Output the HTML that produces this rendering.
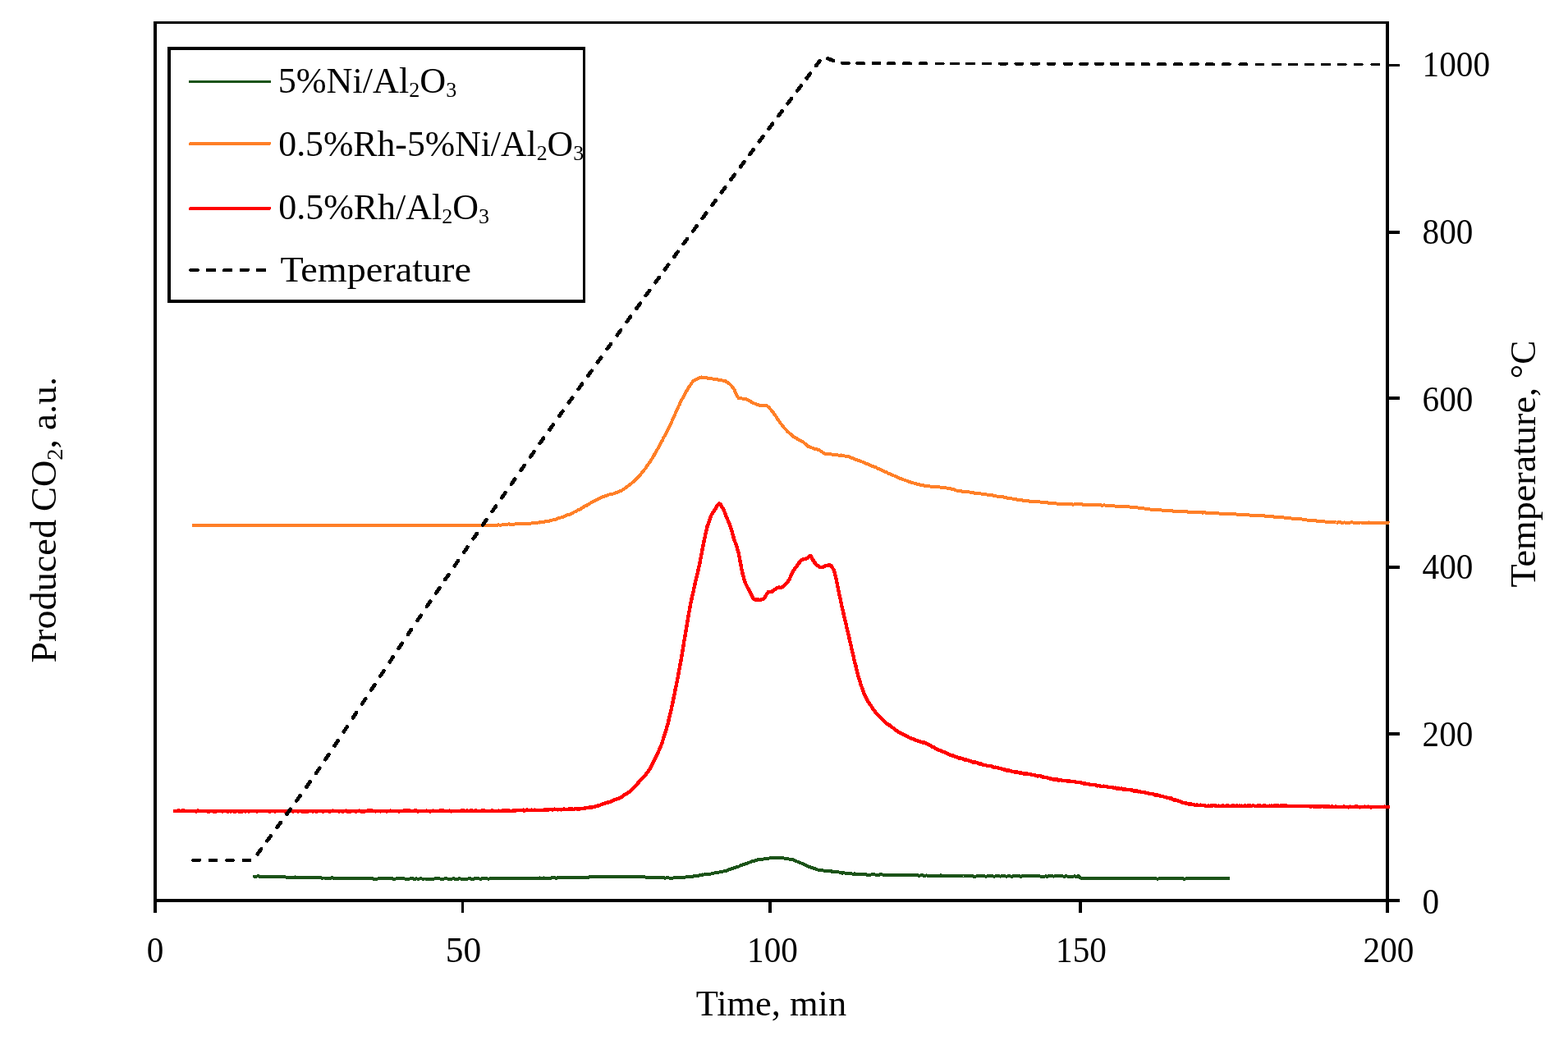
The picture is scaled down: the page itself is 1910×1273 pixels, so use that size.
<!DOCTYPE html>
<html lang="en"><head><meta charset="utf-8"><title>CO2 production vs time</title>
<style>
html,body{margin:0;padding:0;background:#fff;}
body{width:1910px;height:1273px;overflow:hidden;}
svg{display:block;}
text{font-family:"Liberation Serif",serif;fill:#000;}
</style></head><body>
<svg width="1910" height="1273" viewBox="0 0 1910 1273">
<rect x="0" y="0" width="1910" height="1273" fill="#fff"/>
<path d="M187,26H191V1112H187ZM187,26H1692V29H187ZM1688,26H1692V1112H1688ZM187,1095H1705V1099H187ZM562,1097H565V1112H562ZM936,1097H940V1112H936ZM1314,1097H1318V1112H1314ZM1690,78H1705V81H1690ZM1690,281H1705V285H1690ZM1690,483H1705V487H1690ZM1690,689H1705V693H1690ZM1690,892H1705V896H1690Z" fill="#000" shape-rendering="crispEdges"/>
<path d="M309.5,1067.6 L312.0,1067.6 L314.5,1067.3 L317.0,1067.9 L319.5,1067.8 L322.0,1067.9 L324.5,1067.9 L327.0,1067.8 L329.5,1068.3 L332.0,1068.0 L334.5,1068.1 L337.0,1068.5 L339.6,1068.4 L342.1,1068.1 L344.6,1068.5 L347.1,1068.3 L349.6,1068.9 L352.1,1069.0 L354.6,1068.8 L357.1,1069.1 L359.6,1068.5 L362.1,1068.9 L364.6,1068.6 L367.1,1069.0 L369.6,1068.7 L372.1,1068.8 L374.6,1069.3 L377.1,1069.0 L379.6,1068.9 L382.1,1069.1 L384.6,1069.2 L387.1,1069.4 L389.6,1069.2 L392.1,1069.6 L394.6,1069.5 L397.1,1069.6 L399.7,1069.5 L400.5,1069.9 L402.2,1069.7 L404.7,1069.3 L407.2,1069.9 L409.7,1070.1 L412.2,1069.7 L414.7,1070.1 L417.2,1069.7 L419.7,1069.9 L422.2,1069.8 L424.7,1069.8 L427.2,1070.2 L429.7,1070.0 L432.2,1070.4 L434.7,1070.0 L437.2,1069.7 L439.7,1069.9 L442.2,1070.4 L444.7,1070.0 L447.2,1069.7 L449.7,1069.9 L452.2,1069.8 L454.7,1070.7 L457.2,1070.7 L459.8,1070.5 L462.3,1070.4 L464.8,1070.5 L467.3,1070.0 L469.8,1070.2 L472.3,1070.4 L474.8,1070.3 L477.3,1070.0 L479.8,1070.9 L482.3,1070.4 L484.8,1070.5 L487.3,1070.3 L489.8,1070.3 L492.3,1070.4 L494.8,1070.8 L497.3,1070.7 L499.8,1070.4 L502.3,1070.1 L504.8,1070.8 L507.3,1070.4 L509.8,1070.7 L512.3,1070.2 L514.8,1070.7 L517.4,1070.5 L519.9,1070.6 L522.4,1070.5 L524.9,1070.5 L526.2,1070.6 L527.4,1071.0 L529.9,1070.3 L532.4,1070.4 L534.9,1070.2 L537.4,1070.8 L539.9,1070.7 L542.4,1070.3 L544.9,1070.5 L547.4,1070.7 L549.9,1070.7 L552.4,1070.3 L554.9,1070.9 L557.4,1070.8 L559.9,1070.2 L562.4,1070.8 L564.9,1070.7 L567.4,1070.8 L569.9,1070.5 L572.4,1070.2 L574.9,1070.8 L577.5,1070.5 L580.0,1070.3 L582.5,1070.2 L585.0,1070.8 L587.5,1070.3 L590.0,1070.4 L592.5,1070.4 L595.0,1070.6 L597.5,1070.4 L600.0,1070.0 L602.5,1070.4 L605.0,1070.2 L607.5,1070.3 L610.0,1070.4 L612.5,1070.0 L615.0,1069.9 L617.5,1069.8 L620.0,1069.9 L622.5,1069.7 L625.0,1070.2 L626.7,1069.9 L627.5,1069.8 L630.0,1069.7 L632.5,1069.9 L635.0,1069.8 L637.6,1069.8 L640.1,1070.0 L642.6,1070.0 L645.1,1070.3 L647.6,1070.4 L650.1,1069.5 L652.6,1069.6 L655.1,1070.0 L657.6,1069.5 L660.1,1070.1 L662.6,1069.5 L665.1,1069.9 L667.6,1069.8 L670.1,1069.9 L672.6,1069.2 L675.1,1069.3 L677.6,1069.7 L680.1,1069.1 L682.6,1069.0 L685.1,1069.3 L687.6,1069.5 L690.1,1068.9 L692.6,1068.9 L695.1,1068.8 L697.7,1069.1 L700.2,1069.3 L702.1,1068.8 L702.7,1069.4 L705.2,1069.0 L707.7,1069.0 L710.2,1068.7 L712.7,1068.8 L715.2,1069.0 L717.7,1068.5 L720.2,1068.1 L722.7,1068.2 L725.2,1068.1 L727.7,1068.1 L730.2,1068.0 L732.7,1067.5 L735.2,1067.5 L737.7,1067.8 L739.8,1068.0 L740.2,1068.0 L742.7,1068.1 L745.2,1067.8 L747.7,1068.2 L750.2,1067.7 L752.7,1067.8 L755.3,1068.1 L757.8,1068.2 L760.3,1067.8 L762.8,1068.3 L765.3,1067.9 L767.8,1068.2 L770.3,1067.6 L772.8,1067.7 L775.3,1068.5 L777.8,1067.8 L780.0,1068.3 L780.3,1068.0 L782.8,1068.0 L785.3,1068.3 L787.8,1068.9 L790.3,1068.8 L792.8,1069.3 L795.3,1069.2 L797.8,1069.2 L800.3,1069.3 L802.6,1069.0 L802.8,1068.9 L805.3,1069.2 L807.8,1069.3 L810.3,1069.6 L812.8,1069.4 L815.4,1069.5 L817.9,1069.5 L820.4,1069.5 L822.9,1069.3 L825.4,1068.7 L827.9,1068.8 L829.0,1068.6 L830.4,1069.2 L832.9,1069.0 L835.4,1068.4 L837.9,1068.3 L840.4,1068.3 L842.9,1068.0 L845.4,1067.1 L847.9,1067.2 L850.4,1066.9 L852.9,1065.8 L855.4,1065.5 L855.4,1065.8 L857.9,1065.3 L860.4,1065.5 L862.9,1065.0 L865.4,1064.6 L867.9,1064.3 L870.4,1063.4 L872.9,1062.9 L875.5,1062.7 L878.0,1062.0 L878.0,1062.5 L880.5,1061.7 L883.0,1060.8 L885.5,1060.5 L888.0,1059.3 L890.5,1058.4 L893.0,1058.1 L893.1,1057.8 L895.5,1056.8 L898.0,1056.2 L900.5,1055.4 L903.0,1053.8 L905.5,1053.3 L908.0,1052.4 L908.2,1051.8 L910.5,1051.7 L913.0,1050.5 L915.5,1049.4 L918.0,1049.0 L920.5,1048.1 L923.0,1047.4 L925.5,1046.8 L927.0,1046.6 L928.0,1046.7 L930.5,1046.5 L933.1,1045.7 L935.6,1045.9 L938.1,1045.1 L940.6,1044.9 L943.1,1045.3 L945.6,1045.3 L945.9,1045.4 L948.1,1045.2 L950.6,1045.1 L953.1,1045.0 L955.6,1045.7 L958.1,1045.7 L960.6,1046.4 L963.1,1046.9 L964.7,1047.4 L965.6,1047.1 L968.1,1048.4 L970.6,1049.4 L973.1,1050.3 L975.6,1051.3 L977.9,1052.3 L978.1,1052.5 L980.6,1053.8 L983.1,1055.0 L985.6,1056.0 L987.3,1056.1 L988.1,1056.9 L990.6,1057.5 L993.2,1058.1 L995.7,1059.4 L998.2,1059.9 L998.6,1059.7 L1000.7,1060.1 L1003.2,1060.5 L1005.7,1060.7 L1008.2,1061.1 L1010.7,1061.5 L1013.2,1061.4 L1013.7,1062.3 L1015.7,1061.7 L1018.2,1062.3 L1020.7,1062.3 L1023.2,1062.7 L1025.7,1063.6 L1028.2,1063.3 L1030.7,1063.9 L1033.2,1063.6 L1035.7,1063.9 L1038.2,1064.6 L1040.1,1064.8 L1040.7,1064.2 L1043.2,1065.0 L1045.7,1064.9 L1048.2,1064.9 L1050.7,1064.9 L1053.3,1065.0 L1055.8,1065.6 L1058.3,1065.5 L1060.8,1065.5 L1063.3,1065.1 L1065.8,1065.4 L1068.3,1066.1 L1070.3,1065.8 L1070.8,1065.6 L1073.3,1065.3 L1075.8,1065.6 L1078.3,1065.6 L1080.8,1065.5 L1083.3,1065.7 L1085.8,1065.6 L1088.3,1065.5 L1090.8,1065.5 L1093.3,1065.9 L1095.8,1065.6 L1098.3,1066.4 L1100.4,1065.7 L1100.8,1066.0 L1103.3,1066.0 L1105.8,1065.9 L1108.3,1066.0 L1110.9,1065.9 L1113.4,1066.0 L1115.9,1065.9 L1118.4,1066.5 L1120.9,1066.5 L1123.4,1066.2 L1125.9,1066.8 L1128.4,1066.4 L1130.9,1066.7 L1133.4,1066.6 L1135.9,1066.5 L1138.4,1067.1 L1139.0,1067.0 L1140.9,1067.0 L1143.4,1067.2 L1145.9,1066.4 L1148.4,1066.8 L1150.9,1067.3 L1153.4,1066.6 L1155.9,1066.7 L1158.4,1067.0 L1160.9,1067.2 L1163.4,1066.9 L1165.9,1066.9 L1168.4,1067.4 L1171.0,1066.8 L1173.5,1067.5 L1176.0,1067.2 L1178.5,1067.4 L1181.0,1067.5 L1183.5,1067.0 L1186.0,1067.7 L1188.5,1067.6 L1191.0,1067.3 L1193.5,1067.1 L1196.0,1067.0 L1198.5,1067.2 L1200.5,1067.6 L1201.0,1067.7 L1203.5,1067.2 L1206.0,1067.1 L1208.5,1067.2 L1211.0,1067.8 L1213.5,1067.0 L1216.0,1067.1 L1218.5,1067.6 L1221.0,1067.1 L1223.5,1067.2 L1226.0,1067.7 L1228.5,1067.2 L1231.1,1067.5 L1233.6,1067.5 L1236.1,1067.2 L1238.6,1067.2 L1241.1,1067.2 L1243.6,1067.7 L1246.1,1067.0 L1248.6,1067.0 L1251.1,1067.3 L1253.6,1067.1 L1256.1,1067.5 L1258.6,1067.4 L1261.1,1067.4 L1263.6,1067.2 L1266.1,1067.4 L1268.6,1067.7 L1271.1,1067.7 L1273.6,1067.4 L1276.1,1067.7 L1278.6,1067.0 L1281.1,1067.1 L1283.6,1067.6 L1286.1,1067.3 L1288.6,1067.2 L1291.2,1067.5 L1293.7,1067.3 L1296.2,1067.8 L1298.7,1067.3 L1301.2,1067.7 L1303.7,1067.5 L1306.2,1067.8 L1308.7,1067.4 L1311.2,1067.8 L1312.4,1067.5 L1313.7,1067.3 L1316.2,1069.4 L1318.6,1070.4 L1318.7,1069.7 L1321.2,1070.5 L1323.7,1070.2 L1326.2,1070.3 L1328.7,1069.9 L1331.2,1070.5 L1333.7,1070.2 L1336.2,1070.1 L1338.7,1070.5 L1341.2,1070.2 L1343.7,1070.1 L1346.2,1069.7 L1348.8,1070.1 L1351.3,1070.3 L1353.8,1070.0 L1356.3,1070.3 L1358.8,1070.2 L1361.3,1069.8 L1363.8,1070.1 L1366.3,1070.1 L1368.8,1070.0 L1371.3,1070.2 L1373.8,1069.7 L1376.3,1070.0 L1378.8,1070.0 L1381.3,1070.5 L1383.8,1070.3 L1386.3,1070.2 L1388.8,1069.8 L1391.3,1070.0 L1393.8,1070.0 L1396.3,1070.5 L1398.8,1070.1 L1400.0,1070.4 L1401.3,1070.2 L1403.8,1070.4 L1406.3,1069.7 L1408.9,1070.5 L1411.4,1070.5 L1413.9,1069.8 L1416.4,1069.7 L1418.9,1069.9 L1421.4,1070.2 L1423.9,1070.1 L1426.4,1070.0 L1428.9,1070.5 L1431.4,1070.2 L1433.9,1070.5 L1436.4,1070.2 L1438.9,1069.8 L1441.4,1070.5 L1443.9,1070.5 L1446.4,1070.1 L1448.9,1070.3 L1451.4,1070.2 L1453.9,1069.8 L1456.4,1070.2 L1458.9,1070.2 L1461.4,1070.2 L1463.9,1070.1 L1466.4,1070.2 L1469.0,1070.3 L1471.5,1070.3 L1474.0,1069.7 L1476.5,1070.5 L1479.0,1070.1 L1481.5,1070.3 L1484.0,1070.0 L1486.5,1069.7 L1489.0,1070.2 L1491.5,1070.0 L1494.0,1070.1 L1496.5,1070.1" fill="none" stroke="#1b5318" stroke-width="4.0" stroke-linecap="round" stroke-linejoin="round" shape-rendering="crispEdges"/>
<path d="M234.0,640.0 L236.5,640.0 L239.0,640.1 L241.5,639.9 L244.0,640.0 L246.5,640.2 L249.0,640.2 L251.5,639.8 L254.0,639.8 L256.5,639.7 L259.0,640.0 L261.5,639.7 L264.0,640.0 L266.5,640.1 L269.0,639.9 L271.5,640.1 L274.0,640.1 L276.5,639.7 L279.0,640.0 L281.5,639.9 L284.0,639.9 L286.5,639.9 L289.0,640.1 L291.5,640.0 L294.0,639.8 L296.5,640.0 L299.0,640.2 L300.0,639.9 L301.5,639.8 L304.0,639.9 L306.5,640.3 L309.1,640.3 L311.6,640.1 L314.1,640.2 L316.6,640.2 L319.1,639.9 L321.6,639.8 L324.1,640.1 L326.6,640.0 L329.1,639.9 L331.6,639.8 L334.1,639.9 L336.6,640.0 L339.1,639.9 L341.6,639.9 L344.1,640.0 L346.6,640.2 L349.1,640.1 L351.6,639.9 L354.1,639.9 L356.6,640.0 L359.1,639.8 L361.6,639.8 L364.1,640.0 L366.6,639.8 L369.1,640.0 L371.6,639.9 L374.1,640.1 L376.6,640.1 L379.1,640.1 L381.6,640.1 L384.1,639.9 L386.6,640.1 L389.1,639.9 L391.6,640.0 L394.1,639.9 L396.6,640.0 L399.1,639.7 L400.0,639.8 L401.6,640.3 L404.1,639.8 L406.6,640.1 L409.1,640.1 L411.6,640.1 L414.1,640.0 L416.6,640.1 L419.1,639.7 L421.6,639.7 L424.1,639.8 L426.6,639.8 L429.1,639.8 L431.6,639.8 L434.1,640.0 L436.6,639.8 L439.1,640.3 L441.6,640.1 L444.1,640.0 L446.6,640.1 L449.1,639.9 L451.6,640.3 L454.2,640.2 L456.7,640.1 L459.2,640.0 L461.7,640.2 L464.2,640.1 L466.7,640.1 L469.2,640.2 L471.7,640.1 L474.2,639.9 L476.7,640.0 L479.2,639.8 L481.7,639.8 L484.2,640.1 L486.7,640.2 L489.2,640.3 L491.7,640.2 L494.2,640.0 L496.7,639.8 L499.2,640.0 L500.0,640.3 L501.7,640.2 L504.2,640.0 L506.7,640.0 L509.2,639.8 L511.7,639.8 L514.2,639.7 L516.7,640.2 L519.2,640.1 L521.7,639.8 L524.2,639.9 L526.7,639.7 L529.2,639.8 L531.7,640.1 L534.2,640.1 L536.7,640.0 L539.2,639.9 L541.7,640.1 L544.2,640.3 L546.7,640.0 L549.2,639.7 L551.7,639.7 L554.2,639.7 L556.7,640.3 L559.2,640.0 L561.7,640.2 L564.2,639.8 L566.7,639.9 L569.2,640.1 L571.7,640.2 L574.2,639.9 L576.7,639.7 L579.2,640.2 L581.7,639.9 L584.2,640.1 L586.7,639.8 L589.0,640.1 L589.2,640.2 L591.7,640.1 L594.2,639.9 L596.7,640.1 L599.3,639.6 L601.8,639.7 L604.3,639.7 L605.0,639.9 L606.8,639.4 L609.3,639.7 L611.8,639.4 L614.3,639.3 L616.8,638.7 L619.3,638.5 L620.0,638.4 L621.8,638.7 L624.3,638.7 L626.8,638.5 L629.3,638.3 L631.8,638.2 L634.3,638.4 L636.8,638.4 L638.8,637.9 L639.3,637.9 L641.8,638.1 L644.3,638.0 L646.8,637.5 L649.3,637.2 L651.8,637.0 L654.3,636.8 L656.8,636.3 L657.7,636.6 L659.3,636.2 L661.8,636.0 L664.3,635.2 L666.8,635.2 L669.3,634.5 L671.8,633.7 L674.3,633.4 L676.5,632.7 L676.8,632.7 L679.3,631.5 L681.8,630.8 L684.3,630.3 L686.8,629.2 L689.3,628.3 L691.8,627.1 L694.3,626.5 L695.4,625.8 L696.8,625.4 L699.3,623.8 L701.8,622.7 L704.3,621.2 L706.8,620.3 L709.3,618.7 L711.8,617.0 L714.2,615.7 L714.3,616.0 L716.8,614.2 L719.3,612.8 L721.8,611.5 L724.3,610.1 L726.8,608.8 L727.4,608.6 L729.3,607.5 L731.8,606.6 L734.3,605.3 L736.8,604.4 L739.3,603.8 L740.6,603.0 L741.8,602.6 L744.3,602.0 L746.9,601.5 L749.4,600.6 L751.9,599.7 L751.9,600.0 L754.4,598.7 L756.9,597.6 L759.4,596.2 L761.9,594.4 L763.2,593.5 L764.4,592.5 L766.9,590.5 L769.4,588.7 L771.9,586.5 L774.4,584.3 L774.6,583.8 L776.9,581.5 L779.4,579.1 L781.9,575.8 L784.4,572.7 L785.9,571.1 L786.9,569.4 L789.4,565.8 L791.9,562.4 L794.4,558.4 L796.9,554.4 L797.2,553.5 L799.4,550.0 L801.9,545.3 L804.4,540.8 L806.9,536.3 L808.5,532.8 L809.4,531.3 L811.9,526.8 L814.4,521.7 L816.9,516.3 L817.9,514.3 L819.4,511.0 L821.9,505.3 L824.4,499.9 L826.9,494.1 L827.3,493.7 L829.4,488.9 L831.9,484.4 L834.4,479.6 L836.7,475.6 L836.9,475.4 L839.4,471.2 L841.9,467.6 L844.4,464.2 L846.2,463.0 L846.9,462.8 L849.4,461.5 L851.9,460.1 L854.4,459.5 L855.6,459.8 L856.9,459.6 L859.4,459.7 L861.9,460.6 L864.4,461.0 L865.0,461.2 L866.9,461.4 L869.4,461.7 L871.9,462.0 L874.4,462.3 L874.5,462.6 L876.9,462.9 L879.4,463.4 L881.9,464.0 L883.9,464.2 L884.4,464.8 L886.9,466.3 L889.4,468.3 L892.0,471.2 L893.3,472.6 L894.5,474.9 L897.0,480.4 L899.5,484.8 L899.9,484.8 L902.0,485.1 L904.5,485.6 L907.0,485.8 L908.4,486.1 L909.5,486.5 L912.0,488.0 L914.5,489.1 L915.9,490.2 L917.0,490.6 L919.5,491.7 L922.0,492.6 L924.5,493.4 L925.3,493.7 L927.0,493.7 L929.5,494.0 L932.0,494.3 L933.8,494.3 L934.5,494.7 L937.0,496.6 L939.5,499.7 L940.4,500.7 L942.0,502.8 L944.5,506.3 L947.0,510.3 L949.5,513.8 L949.8,514.4 L952.0,517.0 L954.5,520.4 L957.0,523.0 L959.3,525.6 L959.5,525.7 L962.0,528.0 L964.5,529.9 L967.0,532.2 L968.7,533.3 L969.5,533.4 L972.0,535.1 L974.5,536.7 L977.0,537.5 L979.0,539.0 L979.5,539.6 L982.0,541.5 L984.5,543.8 L984.5,543.8 L987.0,544.9 L989.5,545.7 L992.0,546.6 L994.5,546.9 L997.0,548.0 L997.7,547.9 L999.5,549.3 L1002.0,551.0 L1004.5,552.7 L1005.2,552.9 L1007.0,552.8 L1009.5,553.1 L1012.0,553.4 L1014.5,553.7 L1016.5,554.2 L1017.0,554.2 L1019.5,554.4 L1022.0,554.6 L1024.5,554.5 L1027.0,555.0 L1029.5,555.7 L1029.7,555.6 L1032.0,555.9 L1034.5,556.5 L1037.1,557.8 L1039.6,558.5 L1042.1,559.7 L1044.6,560.4 L1044.8,560.6 L1047.1,561.5 L1049.6,562.4 L1052.1,563.2 L1054.6,564.5 L1057.1,565.3 L1059.6,566.5 L1062.1,567.6 L1063.7,568.3 L1064.6,568.4 L1067.1,569.5 L1069.6,570.9 L1072.1,571.9 L1074.6,572.9 L1077.1,574.5 L1079.6,575.1 L1082.1,576.7 L1082.5,576.6 L1084.6,577.5 L1087.1,579.0 L1089.6,579.7 L1092.1,581.0 L1094.6,581.8 L1097.1,583.1 L1099.6,584.0 L1101.4,584.6 L1102.1,584.6 L1104.6,585.8 L1107.1,586.8 L1109.6,587.5 L1110.8,588.0 L1112.1,588.2 L1114.6,589.0 L1117.1,589.7 L1119.6,590.3 L1122.1,590.9 L1124.6,591.4 L1127.1,591.7 L1129.6,592.1 L1129.6,592.3 L1132.1,592.3 L1134.6,592.8 L1137.1,593.2 L1139.6,593.4 L1142.1,593.4 L1144.6,593.4 L1147.1,593.9 L1149.6,594.2 L1152.1,594.4 L1152.2,594.3 L1154.6,594.8 L1157.1,595.1 L1159.6,595.9 L1162.1,596.4 L1164.6,597.4 L1167.1,598.0 L1167.3,597.6 L1169.6,597.9 L1172.1,598.7 L1174.6,598.8 L1177.1,599.3 L1179.6,599.3 L1182.2,599.7 L1184.7,600.3 L1187.2,600.6 L1189.7,601.0 L1192.2,601.4 L1194.7,601.4 L1195.6,601.7 L1197.2,601.8 L1199.7,602.2 L1202.2,602.5 L1204.7,603.2 L1207.2,603.4 L1209.7,603.5 L1212.2,604.2 L1214.7,604.7 L1217.2,605.1 L1219.7,605.3 L1222.2,605.3 L1223.9,606.1 L1224.7,606.3 L1227.2,606.6 L1229.7,606.9 L1232.2,607.3 L1234.7,608.0 L1237.2,608.0 L1239.7,608.9 L1242.2,609.1 L1244.7,609.2 L1246.5,609.9 L1247.2,609.7 L1249.7,609.8 L1252.2,610.1 L1254.7,610.8 L1257.2,610.6 L1259.7,611.1 L1262.2,611.4 L1264.7,611.1 L1267.2,611.5 L1269.7,612.0 L1271.0,611.9 L1272.2,612.2 L1274.7,612.2 L1277.2,612.6 L1279.7,612.5 L1282.2,613.2 L1284.7,613.4 L1287.2,613.5 L1289.7,613.5 L1292.2,613.7 L1294.7,614.0 L1297.2,613.9 L1299.3,614.2 L1299.7,614.1 L1302.2,614.2 L1304.7,614.2 L1307.2,614.6 L1309.7,614.2 L1312.2,614.3 L1314.7,614.3 L1317.2,614.3 L1319.0,614.6 L1319.7,614.8 L1322.2,614.9 L1324.7,614.8 L1327.2,614.8 L1329.8,615.2 L1332.3,615.1 L1334.8,615.2 L1337.3,615.3 L1339.8,615.1 L1342.3,615.7 L1344.8,615.4 L1347.3,615.7 L1349.8,616.1 L1352.3,616.0 L1354.8,616.0 L1357.3,616.4 L1359.8,616.7 L1362.3,616.6 L1364.8,616.5 L1366.0,617.0 L1367.3,616.6 L1369.8,617.2 L1372.3,617.5 L1374.8,617.3 L1377.3,617.8 L1379.8,618.1 L1382.3,618.1 L1384.8,618.4 L1387.3,618.6 L1389.8,619.0 L1392.3,619.2 L1394.8,619.6 L1397.3,620.2 L1399.8,620.4 L1402.3,620.7 L1404.8,620.9 L1407.3,621.2 L1409.8,621.0 L1410.0,621.2 L1412.3,621.1 L1414.8,621.5 L1417.3,621.9 L1419.8,621.9 L1422.3,621.9 L1424.8,622.1 L1427.3,622.3 L1429.8,622.7 L1432.3,622.9 L1434.8,622.9 L1437.3,623.2 L1439.8,623.2 L1442.3,623.0 L1444.8,623.3 L1447.3,623.6 L1449.8,623.7 L1452.3,623.8 L1454.8,623.8 L1457.3,623.7 L1459.8,624.3 L1462.3,624.0 L1464.8,624.6 L1467.3,624.2 L1469.8,624.9 L1472.3,624.6 L1474.9,625.0 L1476.0,624.6 L1477.4,624.9 L1479.9,625.0 L1482.4,625.4 L1484.9,625.5 L1487.4,625.5 L1489.9,625.8 L1492.4,626.1 L1494.9,625.6 L1497.4,626.1 L1499.9,626.3 L1502.4,626.4 L1504.9,626.3 L1507.4,626.8 L1509.9,626.5 L1512.4,627.0 L1514.9,627.0 L1517.4,626.9 L1519.9,627.5 L1520.0,627.0 L1522.4,627.6 L1524.9,627.7 L1527.4,628.0 L1529.9,628.1 L1532.4,628.1 L1534.9,628.1 L1537.4,628.4 L1539.9,628.4 L1542.4,629.0 L1544.9,628.8 L1547.4,629.1 L1549.9,629.3 L1552.4,629.6 L1554.9,630.0 L1557.4,630.0 L1559.9,630.3 L1562.4,630.2 L1564.0,630.5 L1564.9,630.5 L1567.4,631.0 L1569.9,630.8 L1572.4,631.4 L1574.9,631.7 L1577.4,631.8 L1579.9,631.8 L1582.4,632.2 L1584.9,632.4 L1587.4,632.7 L1589.9,633.0 L1592.4,633.6 L1594.9,633.8 L1597.4,634.1 L1599.9,634.2 L1602.4,634.2 L1604.9,634.8 L1607.4,634.7 L1608.0,634.6 L1609.9,635.1 L1612.4,635.1 L1614.9,635.7 L1617.4,635.9 L1620.0,635.8 L1622.5,636.1 L1625.0,636.4 L1627.5,636.5 L1630.0,636.5 L1630.0,636.3 L1632.5,636.4 L1635.0,636.7 L1637.5,636.5 L1640.0,636.7 L1642.5,636.7 L1645.0,636.5 L1647.5,636.4 L1650.0,636.8 L1652.5,636.6 L1655.0,636.7 L1657.5,636.5 L1660.0,636.5 L1662.5,636.7 L1665.0,636.8 L1667.5,636.5 L1670.0,636.9 L1672.5,637.0 L1675.0,636.9 L1677.5,636.9 L1680.0,636.6 L1682.5,636.6 L1685.0,636.7 L1687.5,636.6 L1690.0,636.7 L1692.5,636.8" fill="none" stroke="#ff7f27" stroke-width="4.0" stroke-linecap="butt" stroke-linejoin="round" shape-rendering="crispEdges"/>
<path d="M211.0,988.0 L213.0,987.9 L215.0,988.2 L217.0,987.5 L219.0,987.8 L221.0,987.7 L223.0,987.6 L225.0,987.7 L227.0,987.9 L229.0,988.0 L231.0,988.1 L233.0,988.0 L235.0,988.3 L237.0,987.8 L239.0,988.5 L241.0,987.6 L243.0,988.3 L245.0,988.0 L247.0,988.2 L249.0,987.8 L251.0,987.8 L253.0,988.4 L255.1,988.6 L257.1,988.0 L259.1,988.3 L261.1,988.5 L263.1,988.6 L265.1,987.7 L267.1,987.7 L269.1,987.8 L271.1,988.6 L273.1,987.8 L275.1,988.1 L277.1,988.6 L279.1,988.2 L281.1,988.4 L283.1,988.0 L285.1,988.4 L287.1,988.5 L289.1,987.7 L291.1,988.4 L293.1,988.7 L295.1,988.4 L297.1,988.0 L299.1,988.5 L300.0,987.8 L301.1,988.1 L303.1,988.6 L305.1,988.0 L307.1,988.0 L309.1,987.8 L311.1,987.7 L313.1,988.4 L315.1,987.9 L317.1,988.0 L319.1,988.2 L321.1,987.7 L323.1,988.3 L325.1,987.8 L327.1,988.3 L329.1,988.4 L331.1,987.8 L333.1,988.1 L335.1,988.4 L337.1,988.1 L339.1,987.7 L341.1,988.2 L343.2,988.3 L345.2,988.2 L347.2,988.6 L349.2,988.3 L351.2,988.6 L353.2,987.8 L355.2,987.8 L357.2,988.5 L359.2,988.0 L361.2,987.8 L363.2,988.6 L365.2,988.0 L367.2,988.4 L369.2,988.4 L371.2,988.5 L373.2,988.3 L375.2,988.4 L377.2,988.0 L379.2,987.9 L381.2,988.5 L383.2,988.0 L385.2,988.6 L387.2,988.3 L389.2,988.2 L391.2,987.7 L393.2,988.6 L395.2,988.1 L397.2,988.2 L399.2,988.0 L400.0,987.8 L401.2,988.5 L403.2,988.2 L405.2,987.6 L407.2,988.2 L409.2,987.9 L411.2,988.1 L413.2,988.5 L415.2,987.9 L417.2,988.5 L419.2,988.2 L421.2,987.6 L423.2,988.5 L425.2,988.3 L427.2,988.6 L429.3,987.7 L431.3,987.7 L433.3,988.5 L435.3,988.3 L437.3,987.6 L439.3,988.3 L441.3,988.3 L443.3,988.5 L445.3,988.3 L447.3,987.7 L449.3,987.6 L451.3,987.6 L453.3,987.6 L455.3,987.8 L457.3,988.4 L459.3,988.1 L461.3,988.1 L463.3,988.4 L465.3,987.7 L467.3,987.8 L469.3,988.1 L471.3,988.5 L473.3,988.1 L475.3,987.6 L477.3,988.3 L479.3,987.8 L481.3,988.3 L483.3,987.9 L485.3,988.4 L487.3,988.3 L489.3,988.1 L491.3,987.6 L493.3,987.6 L495.3,987.6 L497.3,987.5 L499.3,987.6 L500.0,987.7 L501.3,988.2 L503.3,988.1 L505.3,987.5 L507.3,987.6 L509.3,988.5 L511.3,988.1 L513.3,987.7 L515.3,987.7 L517.4,988.2 L519.4,987.7 L521.4,988.0 L523.4,988.4 L525.4,988.3 L527.4,987.7 L529.4,987.9 L531.4,988.1 L533.4,988.3 L535.4,987.6 L537.4,987.4 L539.4,987.5 L541.4,987.9 L543.4,988.0 L545.4,988.0 L547.4,987.7 L549.4,988.4 L551.4,988.0 L553.4,987.8 L555.4,987.9 L557.4,988.1 L559.4,988.0 L561.4,987.6 L563.4,987.4 L565.4,987.7 L567.4,988.0 L569.4,987.5 L571.4,988.1 L573.4,987.4 L575.4,987.6 L577.4,988.1 L579.4,987.5 L581.4,987.9 L583.4,987.8 L585.4,988.2 L587.4,987.5 L589.4,987.3 L591.4,988.0 L593.4,988.0 L595.4,988.1 L597.4,988.1 L599.4,987.2 L600.0,987.4 L601.4,987.8 L603.5,988.1 L605.5,988.1 L607.5,987.7 L609.5,988.0 L611.5,987.7 L613.5,987.5 L615.5,987.5 L617.5,987.6 L619.5,987.5 L621.5,987.9 L623.5,987.9 L625.5,987.3 L627.5,987.8 L629.5,987.0 L631.5,986.9 L633.5,986.9 L635.5,987.2 L637.5,986.7 L637.7,987.6 L639.5,987.5 L641.5,986.6 L643.5,986.8 L645.5,986.9 L647.5,986.6 L649.5,987.3 L651.5,986.7 L653.5,987.3 L655.5,986.9 L657.5,987.1 L659.5,987.0 L661.5,987.0 L663.5,986.5 L665.5,986.5 L667.5,986.7 L669.5,986.2 L671.5,986.3 L673.5,986.4 L675.4,985.7 L675.5,986.3 L677.5,986.1 L679.5,986.4 L681.5,985.8 L683.5,986.4 L685.5,986.0 L687.5,985.5 L689.5,986.1 L691.6,985.8 L693.6,985.2 L695.6,985.5 L697.6,985.7 L699.6,985.8 L701.6,984.8 L703.6,985.7 L705.5,985.0 L705.6,985.6 L707.6,985.1 L709.6,985.1 L711.6,984.6 L713.6,984.4 L715.6,983.8 L717.6,983.7 L719.6,983.6 L721.6,983.3 L723.6,982.8 L724.4,982.6 L725.6,982.5 L727.6,981.5 L729.6,981.3 L731.6,980.5 L733.6,979.8 L735.6,979.1 L737.6,978.4 L739.6,977.6 L741.4,977.3 L741.6,977.1 L743.6,976.9 L745.6,975.9 L747.6,974.6 L749.6,974.1 L751.6,973.1 L753.6,972.7 L754.6,972.3 L755.6,971.8 L757.6,970.5 L759.6,968.9 L761.6,967.7 L763.6,967.0 L765.6,965.2 L767.6,964.0 L769.6,962.2 L769.6,962.3 L771.6,960.2 L773.6,958.3 L775.6,955.8 L777.7,953.3 L779.1,951.5 L779.7,950.7 L781.7,948.8 L783.7,946.4 L785.7,945.1 L787.7,941.8 L788.5,941.3 L789.7,939.7 L791.7,936.3 L793.7,932.6 L795.7,928.4 L797.7,924.8 L797.9,924.2 L799.7,920.5 L801.7,916.5 L803.7,911.5 L805.4,907.8 L805.7,907.1 L807.7,900.9 L809.7,894.7 L811.1,890.2 L811.7,888.5 L813.7,881.1 L815.7,872.3 L816.8,867.6 L817.7,864.3 L819.7,854.5 L821.7,845.0 L822.4,841.2 L823.7,834.8 L825.7,825.2 L826.2,822.6 L827.7,814.1 L829.7,803.2 L830.7,797.3 L831.7,791.5 L833.7,778.8 L835.4,769.4 L835.7,767.0 L837.7,755.4 L839.7,744.1 L841.0,736.5 L841.7,733.2 L843.7,724.3 L845.7,715.3 L846.7,710.6 L847.7,706.5 L849.7,698.2 L851.7,689.5 L852.4,686.5 L853.7,678.9 L855.7,668.7 L857.1,661.8 L857.7,658.6 L859.7,649.4 L861.7,640.6 L861.8,641.2 L863.7,634.9 L865.8,629.1 L866.5,627.5 L867.8,625.5 L869.8,622.1 L871.2,620.5 L871.8,619.2 L873.8,615.9 L875.8,614.1 L875.9,613.4 L877.8,614.5 L879.8,618.2 L880.6,619.2 L881.8,621.9 L883.8,626.6 L885.3,631.0 L885.8,631.7 L887.8,636.6 L889.8,641.5 L890.1,642.7 L891.8,648.2 L893.8,655.6 L893.8,656.2 L895.8,661.3 L897.8,667.1 L899.5,673.3 L899.8,674.3 L901.8,684.9 L903.8,695.4 L904.2,697.3 L905.8,703.5 L907.8,710.2 L908.9,712.2 L909.8,714.2 L911.8,717.7 L913.6,721.3 L913.8,721.4 L915.8,725.6 L917.8,729.6 L918.3,729.6 L919.8,730.7 L921.8,730.6 L923.8,730.5 L924.0,731.1 L925.8,731.2 L927.8,730.3 L929.6,730.1 L929.8,729.8 L931.8,727.2 L933.8,724.0 L935.3,722.2 L935.8,721.2 L937.8,721.2 L939.8,720.4 L940.9,720.5 L941.8,719.4 L943.8,718.2 L945.8,716.7 L947.8,716.0 L948.5,715.5 L949.8,715.8 L951.9,715.7 L952.2,715.5 L953.9,714.8 L955.9,712.7 L957.9,711.0 L959.9,708.0 L960.7,707.2 L961.9,705.0 L963.9,700.2 L965.4,697.0 L965.9,696.1 L967.9,693.1 L969.9,690.6 L971.1,688.6 L971.9,687.4 L973.9,685.1 L975.9,682.4 L976.7,682.2 L977.9,681.5 L979.9,681.1 L981.9,680.7 L982.4,680.5 L983.9,679.6 L985.9,677.3 L986.7,677.5 L987.9,677.5 L989.9,681.9 L990.9,682.9 L991.9,684.8 L993.9,687.0 L995.6,689.0 L995.9,688.7 L997.9,690.5 L999.9,691.1 L1001.3,691.1 L1001.9,691.2 L1003.9,689.8 L1005.9,689.0 L1006.9,688.7 L1007.9,688.8 L1009.9,688.5 L1010.7,688.5 L1011.9,688.7 L1013.9,691.3 L1015.4,694.1 L1015.9,694.8 L1017.9,702.6 L1019.2,708.4 L1019.9,711.6 L1021.9,722.1 L1023.9,731.0 L1023.9,731.3 L1025.9,740.8 L1027.9,749.0 L1029.5,756.4 L1029.9,757.6 L1031.9,766.4 L1033.9,774.8 L1035.2,780.8 L1035.9,783.5 L1037.9,792.5 L1040.0,801.3 L1040.8,805.3 L1042.0,809.3 L1044.0,818.3 L1046.0,826.0 L1046.4,826.6 L1048.0,832.1 L1050.0,837.9 L1052.0,843.8 L1053.9,848.0 L1054.0,848.2 L1056.0,852.0 L1058.0,855.7 L1060.0,858.5 L1061.5,860.5 L1062.0,861.8 L1064.0,864.2 L1066.0,866.9 L1068.0,869.6 L1070.0,871.4 L1070.9,872.1 L1072.0,873.4 L1074.0,875.9 L1076.0,877.8 L1078.0,879.5 L1080.0,881.3 L1082.0,882.3 L1082.2,882.3 L1084.0,883.9 L1086.0,885.5 L1088.0,886.8 L1090.0,888.7 L1092.0,889.9 L1094.0,891.6 L1095.4,891.8 L1096.0,892.7 L1098.0,893.4 L1100.0,894.8 L1102.0,895.6 L1104.0,896.3 L1106.0,897.5 L1108.0,898.8 L1110.0,899.5 L1110.5,899.7 L1112.0,900.0 L1114.0,901.1 L1116.0,902.1 L1118.0,902.6 L1120.0,903.0 L1122.0,904.0 L1124.0,904.6 L1125.6,904.9 L1126.0,904.5 L1128.1,905.4 L1130.1,906.3 L1132.1,907.7 L1134.1,908.6 L1136.1,910.2 L1138.1,910.4 L1140.1,912.2 L1142.1,913.0 L1142.5,913.2 L1144.1,913.8 L1146.1,914.7 L1148.1,915.5 L1150.1,915.9 L1152.1,917.2 L1154.1,918.2 L1156.1,919.3 L1158.1,919.8 L1159.5,920.4 L1160.1,920.2 L1162.1,920.8 L1164.1,922.2 L1166.1,922.4 L1168.1,923.7 L1170.1,923.5 L1172.1,924.2 L1174.1,925.0 L1174.6,925.4 L1176.1,925.5 L1178.1,925.8 L1180.1,926.5 L1182.1,927.3 L1184.1,928.1 L1186.1,928.7 L1188.1,928.6 L1190.1,929.1 L1192.1,930.1 L1193.4,930.7 L1194.1,930.1 L1196.1,931.2 L1198.1,931.7 L1200.1,931.9 L1202.1,932.8 L1204.1,932.9 L1206.1,932.7 L1208.1,933.6 L1210.1,934.5 L1212.1,934.9 L1212.3,934.7 L1214.2,935.2 L1216.2,935.6 L1218.2,935.8 L1220.2,936.7 L1222.2,937.3 L1224.2,937.5 L1226.2,938.5 L1228.2,938.3 L1230.2,939.3 L1231.1,939.1 L1232.2,939.8 L1234.2,939.8 L1236.2,940.6 L1238.2,940.5 L1240.2,940.7 L1242.2,941.6 L1244.2,941.5 L1246.2,942.3 L1248.2,942.6 L1250.2,942.4 L1251.8,942.7 L1252.2,942.8 L1254.2,943.1 L1256.2,943.7 L1258.2,943.7 L1260.2,944.1 L1262.2,945.0 L1264.2,945.5 L1266.2,945.1 L1268.2,945.7 L1270.2,946.0 L1270.7,946.8 L1272.2,946.9 L1274.2,947.2 L1276.2,947.4 L1278.2,948.3 L1280.2,948.4 L1282.2,949.3 L1284.2,949.5 L1286.2,949.6 L1288.2,949.6 L1289.5,950.7 L1290.2,950.0 L1292.2,950.3 L1294.2,950.7 L1296.2,950.9 L1298.2,950.9 L1300.2,951.6 L1302.3,951.3 L1304.3,951.9 L1306.3,952.3 L1308.3,951.9 L1310.3,952.6 L1310.3,952.7 L1312.3,952.9 L1314.3,953.2 L1316.3,953.3 L1318.3,954.1 L1320.3,954.7 L1322.3,954.5 L1324.3,955.3 L1326.3,954.9 L1328.3,956.1 L1330.3,955.8 L1331.0,956.1 L1332.3,956.2 L1334.3,956.3 L1336.3,957.4 L1338.3,957.1 L1340.3,957.6 L1342.3,957.8 L1344.3,957.7 L1346.3,958.1 L1348.3,958.2 L1350.3,958.9 L1352.3,958.9 L1354.3,959.3 L1355.5,959.2 L1356.3,960.0 L1358.3,959.6 L1360.3,960.7 L1362.3,960.2 L1364.3,960.8 L1366.3,960.6 L1368.3,961.6 L1370.3,961.2 L1372.3,961.9 L1374.3,962.3 L1376.3,962.0 L1378.3,962.7 L1379.0,962.5 L1380.3,963.3 L1382.3,963.6 L1384.3,963.3 L1386.3,964.4 L1388.4,963.9 L1390.4,965.1 L1392.4,965.1 L1394.4,965.3 L1396.4,966.1 L1398.4,966.4 L1400.4,967.1 L1402.4,966.8 L1404.4,966.9 L1406.4,968.3 L1407.1,968.4 L1408.4,968.5 L1410.4,968.7 L1412.4,969.4 L1414.4,969.9 L1416.4,970.0 L1418.4,970.9 L1420.4,971.4 L1422.4,971.8 L1424.4,972.2 L1426.0,972.9 L1426.4,972.3 L1428.4,973.7 L1430.4,974.5 L1432.4,974.6 L1434.4,975.2 L1436.4,976.0 L1438.4,976.8 L1440.4,978.0 L1442.4,978.2 L1444.4,978.4 L1444.8,978.3 L1446.4,978.8 L1448.4,979.5 L1450.4,979.5 L1452.4,979.9 L1454.4,980.2 L1456.4,980.8 L1458.0,980.5 L1458.4,980.5 L1460.4,981.0 L1462.4,980.7 L1464.4,981.2 L1466.4,981.2 L1468.4,981.6 L1470.4,981.9 L1472.4,981.5 L1473.1,981.9 L1474.4,981.6 L1476.5,981.8 L1478.5,981.2 L1480.5,981.5 L1482.5,982.0 L1484.5,981.7 L1486.5,981.9 L1488.5,981.6 L1490.5,981.6 L1492.5,981.9 L1494.5,981.2 L1496.5,981.7 L1498.5,982.0 L1500.5,981.6 L1502.5,981.3 L1504.5,981.9 L1506.5,981.4 L1508.5,981.8 L1510.5,981.6 L1510.8,982.0 L1512.5,981.7 L1514.5,981.9 L1516.5,981.1 L1518.5,982.1 L1520.5,981.2 L1522.5,981.4 L1524.5,982.0 L1526.5,981.1 L1528.5,981.9 L1530.5,982.0 L1532.5,981.5 L1534.5,981.4 L1536.5,981.9 L1538.5,981.6 L1540.5,981.2 L1542.5,982.0 L1544.5,982.0 L1546.5,981.6 L1548.5,982.0 L1548.5,981.5 L1550.5,981.8 L1552.5,981.5 L1554.5,981.6 L1556.5,981.3 L1558.5,982.1 L1560.5,981.5 L1562.6,981.3 L1564.6,981.4 L1566.6,981.3 L1568.6,982.0 L1570.6,981.9 L1572.6,982.2 L1574.6,981.9 L1576.6,982.2 L1578.6,982.2 L1580.6,982.3 L1582.6,982.0 L1584.6,982.2 L1586.2,981.8 L1586.6,981.9 L1588.6,981.8 L1590.6,982.1 L1592.6,981.9 L1594.6,982.1 L1596.6,982.7 L1598.6,982.1 L1600.6,982.8 L1602.6,982.5 L1604.6,982.3 L1606.6,982.8 L1608.6,982.6 L1610.6,982.2 L1612.6,982.8 L1614.6,982.5 L1616.6,982.4 L1618.6,982.4 L1620.6,982.8 L1622.6,982.4 L1624.6,983.0 L1626.6,982.5 L1628.6,982.8 L1630.6,982.8 L1632.6,983.2 L1634.6,983.2 L1636.6,982.5 L1638.6,983.0 L1640.6,983.3 L1642.6,982.8 L1642.7,983.3 L1644.6,982.7 L1646.6,983.0 L1648.6,983.1 L1650.7,982.7 L1652.7,982.5 L1654.7,982.9 L1656.7,983.4 L1658.7,982.8 L1660.7,983.3 L1662.7,982.7 L1664.7,982.9 L1666.7,982.7 L1668.7,983.3 L1670.7,983.3 L1672.7,983.2 L1674.7,982.8 L1676.7,983.3 L1678.7,982.8 L1680.7,983.0 L1682.7,983.0 L1684.7,982.9 L1686.7,982.7 L1688.7,983.2 L1690.7,983.3 L1692.7,983.1" fill="none" stroke="#ff0000" stroke-width="4.4" stroke-linecap="butt" stroke-linejoin="round" shape-rendering="crispEdges"/>
<path d="M313.7,1040.3L318.1,1034.3M325.4,1024.3L329.9,1018.2M337.5,1007.9L341.9,1001.9M349.3,991.8L353.7,985.8M361.3,975.4L365.7,969.3M373.3,958.7L377.6,952.5M384.9,942.0L389.2,935.8M396.3,925.2L400.5,919.0M407.6,908.4L411.8,902.1M418.8,891.4L422.9,885.2M430.0,874.4L434.1,868.1M441.1,857.4L445.2,851.1M452.3,840.4L456.4,834.1M463.3,823.5L467.5,817.2M474.7,806.4L478.8,800.2M485.6,790.0L489.7,783.8M496.9,773.1L501.0,766.9M508.4,756.0L512.6,749.8M519.9,738.9L524.1,732.7M531.1,722.5L535.3,716.3M542.2,706.1L546.5,700.0M553.8,689.3L558.0,683.2M565.2,672.8L569.4,666.6M576.6,656.2L580.9,650.0M588.1,639.5L592.4,633.4M599.7,622.9L604.0,616.7M611.3,606.3L615.6,600.1M622.9,589.7L627.2,583.5M634.5,573.1L638.8,566.9M646.1,556.5L650.5,550.4M657.8,540.0L662.1,533.8M669.5,523.4L673.8,517.3M681.2,506.9L685.5,500.8M692.8,490.6L697.2,484.4M704.7,473.9L709.0,467.8M716.2,457.8L720.6,451.7M727.8,441.6L732.2,435.5M739.8,425.0L744.1,418.9M751.7,408.4L756.1,402.3M763.7,391.8L768.1,385.8M775.4,375.7L779.8,369.6M786.8,360.0L791.2,353.9M798.4,344.1L802.8,338.0M809.7,328.5L814.2,322.4M821.2,312.8L825.6,306.8M832.7,297.1L837.1,291.1M844.2,281.5L848.6,275.4M855.7,265.8L860.2,259.7M867.3,250.1L871.7,244.1M878.8,234.5L883.3,228.4M890.4,218.8L894.9,212.8M902.0,203.2L906.5,197.2M913.2,188.1L917.7,182.1M924.9,172.4L929.4,166.4M936.5,156.8L941.0,150.8M948.2,141.1L952.7,135.1M959.5,126.1L964.0,120.1M971.1,110.6L975.6,104.6M982.6,95.4L987.1,89.4M994.0,80.1L998.5,74.2M1008.1,71.2L1015.1,73.9" fill="none" stroke="#000" stroke-width="4.6" stroke-linecap="round" stroke-linejoin="round" shape-rendering="crispEdges"/>
<path d="M235.1,1048.0L243.3,1048.0M255.4,1048.0L263.6,1048.0M275.9,1048.0L284.1,1048.0M296.4,1048.0L304.6,1048.0M1025.8,76.9L1034.0,77.0M1044.0,77.1L1052.2,77.1M1063.4,77.1L1071.6,77.1M1081.5,77.2L1089.7,77.2M1100.9,77.2L1109.1,77.3M1120.4,77.3L1128.6,77.3M1140.5,77.4L1148.7,77.4M1158.9,77.4L1167.1,77.4M1177.9,77.5L1186.1,77.5M1198.0,77.5L1206.2,77.6M1217.9,77.6L1226.1,77.6M1237.3,77.7L1245.5,77.7M1256.9,77.7L1265.1,77.7M1276.4,77.8L1284.6,77.8M1296.9,77.8L1305.1,77.8M1316.1,77.9L1324.3,77.9M1334.9,77.9L1343.1,77.9M1353.5,77.9L1361.7,78.0M1372.3,78.0L1380.5,78.0M1391.3,78.0L1399.5,78.1M1410.9,78.1L1419.1,78.1M1430.9,78.1L1439.1,78.2M1450.8,78.2L1459.0,78.2M1469.9,78.2L1478.1,78.3M1489.8,78.3L1498.0,78.3M1510.3,78.3L1518.5,78.3M1530.4,78.4L1538.6,78.4M1550.8,78.4L1559.0,78.4M1570.8,78.4L1579.0,78.4M1590.9,78.4L1599.1,78.4M1610.9,78.4L1619.1,78.5M1630.5,78.5L1638.7,78.5M1650.5,78.5L1658.7,78.5M1671.2,78.5L1679.4,78.5" fill="none" stroke="#000" stroke-width="3.8" stroke-linecap="round" stroke-linejoin="round" shape-rendering="crispEdges"/>
<text x="189.0" y="1171.7" font-size="43.5" text-anchor="middle" textLength="20.60" lengthAdjust="spacingAndGlyphs">0</text>
<text x="564.4" y="1171.7" font-size="43.5" text-anchor="middle" textLength="43.50" lengthAdjust="spacingAndGlyphs">50</text>
<text x="941.0" y="1171.7" font-size="43.5" text-anchor="middle" textLength="61.79" lengthAdjust="spacingAndGlyphs">100</text>
<text x="1317.0" y="1171.7" font-size="43.5" text-anchor="middle" textLength="61.79" lengthAdjust="spacingAndGlyphs">150</text>
<text x="1691.5" y="1171.7" font-size="43.5" text-anchor="middle" textLength="61.79" lengthAdjust="spacingAndGlyphs">200</text>
<text x="1732.6" y="1112.8" font-size="43.5" textLength="20.60" lengthAdjust="spacingAndGlyphs">0</text>
<text x="1732.6" y="908.8" font-size="43.5" textLength="61.79" lengthAdjust="spacingAndGlyphs">200</text>
<text x="1732.6" y="704.9" font-size="43.5" textLength="61.79" lengthAdjust="spacingAndGlyphs">400</text>
<text x="1732.6" y="500.9" font-size="43.5" textLength="61.79" lengthAdjust="spacingAndGlyphs">600</text>
<text x="1732.6" y="296.9" font-size="43.5" textLength="61.79" lengthAdjust="spacingAndGlyphs">800</text>
<text x="1732.6" y="92.9" font-size="43.5" textLength="82.39" lengthAdjust="spacingAndGlyphs">1000</text>
<text x="939.4" y="1237.4" font-size="43.5" text-anchor="middle" textLength="183.4" lengthAdjust="spacingAndGlyphs">Time, min</text>
<text transform="translate(67.5,807.6) rotate(-90)" font-size="43.5"><tspan textLength="174.6" lengthAdjust="spacingAndGlyphs">Produced</tspan><tspan dx="-1.1" textLength="73.4" lengthAdjust="spacingAndGlyphs"> CO</tspan><tspan font-size="27.5" dy="8.8" textLength="14.2" lengthAdjust="spacingAndGlyphs">2</tspan><tspan dy="-8.8" textLength="87.5" lengthAdjust="spacingAndGlyphs">, a.u.</tspan></text>
<text transform="translate(1870.1,715.6) rotate(-90)" font-size="43.5"><tspan textLength="232.6" lengthAdjust="spacingAndGlyphs">Temperature</tspan><tspan>, °C</tspan></text>
<path d="M204,57H713V369H204Z" fill="#000" shape-rendering="crispEdges"/><path d="M208,61H710V365H208Z" fill="#fff" shape-rendering="crispEdges"/>
<path d="M231.5,99.5 H328.5" stroke="#1b5318" stroke-width="3" stroke-linecap="round" shape-rendering="crispEdges"/>
<path d="M232,175 H328" stroke="#ff7f27" stroke-width="4" stroke-linecap="round" shape-rendering="crispEdges"/>
<path d="M232,254 H328" stroke="#ff0000" stroke-width="4" stroke-linecap="round" shape-rendering="crispEdges"/>
<path d="M232.2,329 H322.2" stroke="#000" stroke-width="4" stroke-linecap="round" stroke-dasharray="8.6 11.8" shape-rendering="crispEdges"/>
<g transform="translate(338.7,113) scale(1.016,1)"><text font-size="43.5">5%Ni/Al<tspan font-size="25.7" dy="5.2">2</tspan><tspan dy="-5.2">O</tspan><tspan font-size="25.7" dy="5.2">3</tspan></text></g>
<g transform="translate(339.3,190) scale(1.005,1)"><text font-size="43.5">0.5%Rh-5%Ni/Al<tspan font-size="25.7" dy="5.2">2</tspan><tspan dy="-5.2">O</tspan><tspan font-size="25.7" dy="5.2">3</tspan></text></g>
<g transform="translate(339.2,267) scale(1.011,1)"><text font-size="43.5">0.5%Rh/Al<tspan font-size="25.7" dy="5.2">2</tspan><tspan dy="-5.2">O</tspan><tspan font-size="25.7" dy="5.2">3</tspan></text></g>
<text x="341.4" y="342.9" font-size="43.5" textLength="232.6" lengthAdjust="spacingAndGlyphs">Temperature</text>
</svg>
</body></html>
